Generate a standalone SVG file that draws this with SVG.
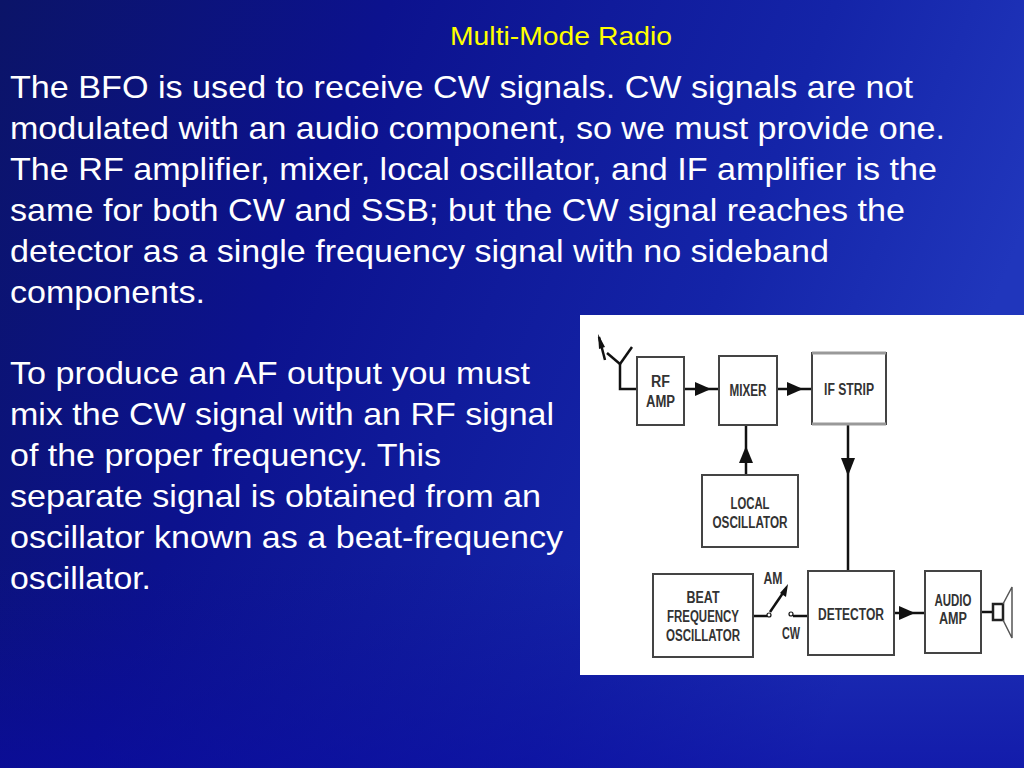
<svg xmlns="http://www.w3.org/2000/svg" width="1024" height="768" viewBox="0 0 1024 768">
<defs>
<linearGradient id="bg" x1="0" y1="0" x2="1" y2="0.3">
<stop offset="0" stop-color="#0b1468"/>
<stop offset="0.35" stop-color="#0c128e"/>
<stop offset="0.75" stop-color="#1424a8"/>
<stop offset="1" stop-color="#2036bc"/>
</linearGradient>
<linearGradient id="bot" x1="0" y1="0" x2="0" y2="1">
<stop offset="0" stop-color="#0a0a90" stop-opacity="0"/>
<stop offset="1" stop-color="#0a0aa0" stop-opacity="0.6"/>
</linearGradient>
<style>
.body{font-family:"Liberation Sans",Arial,sans-serif;font-size:32px;fill:#ffffff}
.title{font-family:"Liberation Sans",Arial,sans-serif;font-size:25px;fill:#ffff00}
.box{fill:#ffffff;stroke:#444;stroke-width:2}
.lbl{font-family:"Liberation Sans",Arial,sans-serif;font-weight:bold;font-size:16px;fill:#333;text-anchor:middle}
.wire{stroke:#111;stroke-width:2.5;fill:none}
.arr{fill:#111}
</style>
</defs>
<rect width="1024" height="768" fill="url(#bg)"/>
<rect y="560" width="1024" height="208" fill="url(#bot)"/>
<text class="title" x="450" y="45" textLength="222" lengthAdjust="spacingAndGlyphs">Multi-Mode Radio</text>
<g id="text">
<text class="body" x="10" y="98" textLength="903" lengthAdjust="spacingAndGlyphs">The BFO is used to receive CW signals. CW signals are not</text>
<text class="body" x="10" y="139" textLength="935" lengthAdjust="spacingAndGlyphs">modulated with an audio component, so we must provide one.</text>
<text class="body" x="10" y="180" textLength="927" lengthAdjust="spacingAndGlyphs">The RF amplifier, mixer, local oscillator, and IF amplifier is the</text>
<text class="body" x="10" y="221" textLength="895" lengthAdjust="spacingAndGlyphs">same for both CW and SSB; but the CW signal reaches the</text>
<text class="body" x="10" y="262" textLength="819" lengthAdjust="spacingAndGlyphs">detector as a single frequency signal with no sideband</text>
<text class="body" x="10" y="303" textLength="195" lengthAdjust="spacingAndGlyphs">components.</text>
<text class="body" x="10" y="384" textLength="520" lengthAdjust="spacingAndGlyphs">To produce an AF output you must</text>
<text class="body" x="10" y="425" textLength="544" lengthAdjust="spacingAndGlyphs">mix the CW signal with an RF signal</text>
<text class="body" x="10" y="466" textLength="431" lengthAdjust="spacingAndGlyphs">of the proper frequency. This</text>
<text class="body" x="10" y="507" textLength="531" lengthAdjust="spacingAndGlyphs">separate signal is obtained from an</text>
<text class="body" x="10" y="548" textLength="553" lengthAdjust="spacingAndGlyphs">oscillator known as a beat-frequency</text>
<text class="body" x="10" y="589" textLength="141" lengthAdjust="spacingAndGlyphs">oscillator.</text>
</g>
<rect x="580" y="315" width="444" height="360" fill="#ffffff"/>
<g id="connectors">
<polyline class="wire" points="620,364 620,389 637,389"/>
<line class="wire" x1="607" y1="353" x2="620" y2="364" stroke-width="2"/>
<line class="wire" x1="632" y1="347" x2="620" y2="364" stroke-width="2"/>
<line class="wire" x1="605" y1="360" x2="599" y2="337" stroke-width="2.5"/>
<path class="arr" d="M598,334 L605,347 L599,349 Z"/>
<line class="wire" x1="684" y1="389" x2="719" y2="389"/>
<path class="arr" d="M695,382 L711,389 L695,396 Z"/>
<line class="wire" x1="777" y1="389" x2="812" y2="389"/>
<path class="arr" d="M787,382 L803,389 L787,396 Z"/>
<line class="wire" x1="746" y1="425" x2="746" y2="475"/>
<path class="arr" d="M739,463 L746,446 L753,463 Z"/>
<line class="wire" x1="848" y1="424" x2="848" y2="571"/>
<path class="arr" d="M841,458 L848,476 L855,458 Z"/>
<line class="wire" x1="894" y1="613" x2="925" y2="613" stroke-width="3"/>
<path class="arr" d="M899,606 L915,613 L899,620 Z"/>
<line class="wire" x1="753" y1="616" x2="767" y2="616"/>
<circle cx="769" cy="615" r="2" fill="none" stroke="#111" stroke-width="1.2"/>
<line class="wire" x1="770" y1="612" x2="785" y2="590" stroke-width="2"/>
<path class="arr" d="M788,584 L786,597 L780,593 Z"/>
<circle cx="791" cy="614" r="2" fill="none" stroke="#111" stroke-width="1.2"/>
<line class="wire" x1="793" y1="616" x2="808" y2="616"/>
<line class="wire" x1="981" y1="612" x2="993" y2="612"/>
</g>
<g id="rfamp"><rect class="box" x="637" y="357" width="47" height="68"/>
<text class="lbl" x="660.5" y="387" textLength="19" lengthAdjust="spacingAndGlyphs">RF</text>
<text class="lbl" x="660.5" y="407" textLength="29" lengthAdjust="spacingAndGlyphs">AMP</text></g>
<g id="mixer"><rect class="box" x="719" y="356" width="58" height="69"/>
<text class="lbl" x="748" y="396" textLength="37" lengthAdjust="spacingAndGlyphs">MIXER</text></g>
<g id="ifstrip"><rect class="box" x="812" y="353" width="74" height="71"/>
<line x1="812" y1="353" x2="886" y2="353" stroke="#999" stroke-width="3"/>
<line x1="812" y1="424" x2="886" y2="424" stroke="#999" stroke-width="3"/>
<text class="lbl" x="849" y="395" textLength="50" lengthAdjust="spacingAndGlyphs">IF STRIP</text></g>
<g id="localosc"><rect class="box" x="702" y="475" width="96" height="72"/>
<text class="lbl" x="750" y="509" textLength="39" lengthAdjust="spacingAndGlyphs">LOCAL</text>
<text class="lbl" x="750" y="528" textLength="75" lengthAdjust="spacingAndGlyphs">OSCILLATOR</text></g>
<g id="bfo"><rect class="box" x="653" y="574" width="100" height="83"/>
<text class="lbl" x="703" y="603" textLength="33" lengthAdjust="spacingAndGlyphs">BEAT</text>
<text class="lbl" x="703" y="622" textLength="72" lengthAdjust="spacingAndGlyphs">FREQUENCY</text>
<text class="lbl" x="703" y="641" textLength="74" lengthAdjust="spacingAndGlyphs">OSCILLATOR</text></g>
<g id="switchlabels">
<text class="lbl" x="773" y="584" textLength="19" lengthAdjust="spacingAndGlyphs">AM</text>
<text class="lbl" x="791" y="639" textLength="18" lengthAdjust="spacingAndGlyphs">CW</text></g>
<g id="detector"><rect class="box" x="808" y="571" width="86" height="84"/>
<text class="lbl" x="851" y="620" textLength="66" lengthAdjust="spacingAndGlyphs">DETECTOR</text></g>
<g id="audioamp"><rect class="box" x="925" y="571" width="56" height="82"/>
<text class="lbl" x="953" y="606" textLength="37" lengthAdjust="spacingAndGlyphs">AUDIO</text>
<text class="lbl" x="953" y="624" textLength="28" lengthAdjust="spacingAndGlyphs">AMP</text></g>
<g id="speaker">
<rect x="993" y="604" width="10" height="16" fill="none" stroke="#222" stroke-width="2.5"/>
<polyline points="1003,604 1012,587 1012,638 1003,620" fill="none" stroke="#555" stroke-width="1.5"/>
</g>
</svg>
